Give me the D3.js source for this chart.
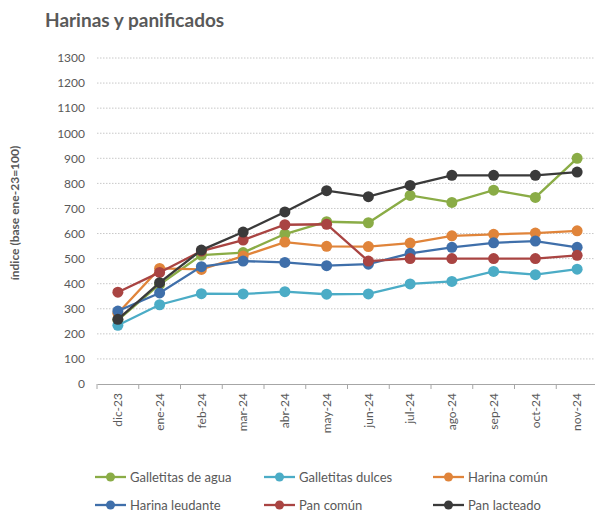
<!DOCTYPE html>
<html>
<head>
<meta charset="utf-8">
<script src="https://cdn.jsdelivr.net/npm/d3@7"></script>
<style>
  body { margin: 0; background: #fff; }
  svg { display: block; font-family: 'Lato', 'Open Sans', sans-serif; }
</style>
</head>
<body>
<script>
const months = ['dic-23', 'ene-24', 'feb-24', 'mar-24', 'abr-24', 'may-24',
  'jun-24', 'jul-24', 'ago-24', 'sep-24', 'oct-24', 'nov-24'];
const yTicks = [0, 100, 200, 300, 400, 500, 600, 700, 800, 900, 1000, 1100, 1200, 1300];

const galletitasAgua = [255, 397, 514, 524, 598, 647, 643, 752, 724, 773, 744, 900];
const galletitasDulces = [234, 316, 360, 359, 368, 358, 359, 399, 409, 449, 436, 458];
const harinaComun = [282, 461, 457, 510, 566, 549, 548, 562, 591, 597, 602, 611];
const harinaLeudante = [291, 363, 468, 490, 485, 472, 478, 521, 545, 563, 570, 545];
const panComun = [366, 445, 530, 574, 635, 637, 490, 500, 500, 500, 500, 513];
const panLacteado = [258, 404, 534, 606, 686, 771, 747, 792, 832, 832, 832, 845];

const series = [
  { name: 'Galletitas de agua', color: '#8aac46', values: galletitasAgua },
  { name: 'Galletitas dulces', color: '#4bacc6', values: galletitasDulces },
  { name: 'Harina común', color: '#e0843a', values: harinaComun },
  { name: 'Harina leudante', color: '#3f6faa', values: harinaLeudante },
  { name: 'Pan común', color: '#a94442', values: panComun },
  { name: 'Pan lacteado', color: '#3a3a3a', values: panLacteado },
];

const width = 595;
const height = 513;
const textColor = '#595959';

const svg = d3.select('body').append('svg')
  .attr('width', width)
  .attr('height', height);

svg.append('text')
  .attr('x', 45)
  .attr('y', 27)
  .attr('fill', textColor)
  .attr('font-size', 19)
  .attr('font-weight', 'bold')
  .text('Harinas y panificados');

const x = d3.scaleBand(months, [97, 598]);
const y = d3.scaleLinear([0, 1300], [384, 58]);

// gridlines
svg.append('g')
  .selectAll('line')
  .data(yTicks.filter(d => d > 0))
  .join('line')
  .attr('x1', 97)
  .attr('x2', 595)
  .attr('y1', d => y(d))
  .attr('y2', d => y(d))
  .attr('stroke', '#c8c8c8')
  .attr('stroke-dasharray', '1.5,1.5');

// y axis labels
const yAxis = svg.append('g')
  .attr('transform', 'translate(85,0)')
  .call(d3.axisLeft(y).tickValues(yTicks).tickFormat(d3.format('d')).tickSize(0).tickPadding(0));
yAxis.select('.domain').remove();
yAxis.selectAll('text')
  .attr('fill', textColor)
  .attr('font-size', 12)
  .attr('font-family', "'Lato', sans-serif");

svg.append('text')
  .attr('transform', 'translate(19,213) rotate(-90)')
  .attr('text-anchor', 'middle')
  .attr('fill', textColor)
  .attr('font-size', 12)
  .attr('font-weight', 'bold')
  .text('índice (base ene-23=100)');

// x axis
const xAxis = svg.append('g')
  .attr('transform', `translate(0,${y(0)})`)
  .call(d3.axisBottom(x).tickSize(0).tickPadding(0));
xAxis.select('.domain')
  .attr('stroke', '#a6a6a6')
  .attr('stroke-width', 1.2);
xAxis.append('g')
  .selectAll('line')
  .data(months)
  .join('line')
  .attr('x1', d => x(d))
  .attr('x2', d => x(d))
  .attr('y1', 0)
  .attr('y2', 5)
  .attr('stroke', '#a6a6a6');
xAxis.selectAll('.tick text')
  .attr('transform', 'rotate(-90)')
  .attr('text-anchor', 'end')
  .attr('dy', '0.35em')
  .attr('x', -9)
  .attr('y', 0)
  .attr('fill', textColor)
  .attr('font-size', 12)
  .attr('font-family', "'Lato', sans-serif");

const cx = d => x(d) + x.bandwidth() / 2;
const line = d3.line()
  .x((d, i) => cx(months[i]))
  .y(d => y(d));

const groups = svg.append('g')
  .selectAll('g')
  .data(series)
  .join('g');

groups.append('path')
  .attr('d', d => line(d.values))
  .attr('fill', 'none')
  .attr('stroke', d => d.color)
  .attr('stroke-width', 2.3);

groups.selectAll('circle')
  .data(d => d.values.map((v, i) => ({ v, i, color: d.color })))
  .join('circle')
  .attr('cx', d => cx(months[d.i]))
  .attr('cy', d => y(d.v))
  .attr('r', 5.5)
  .attr('fill', d => d.color);

// legend
const legendCols = [95, 264, 433];
const legendRows = [477, 505];
const legend = svg.append('g')
  .selectAll('g')
  .data(series)
  .join('g')
  .attr('transform', (d, i) => `translate(${legendCols[i % 3]},${legendRows[Math.floor(i / 3)]})`);
legend.append('line')
  .attr('x1', 0)
  .attr('x2', 31)
  .attr('stroke', d => d.color)
  .attr('stroke-width', 2.3);
legend.append('circle')
  .attr('cx', 15.5)
  .attr('r', 4.5)
  .attr('fill', d => d.color);
legend.append('text')
  .attr('x', 35)
  .attr('dy', '0.35em')
  .attr('fill', textColor)
  .attr('font-size', 13)
  .text(d => d.name);
</script>
</body>
</html>
